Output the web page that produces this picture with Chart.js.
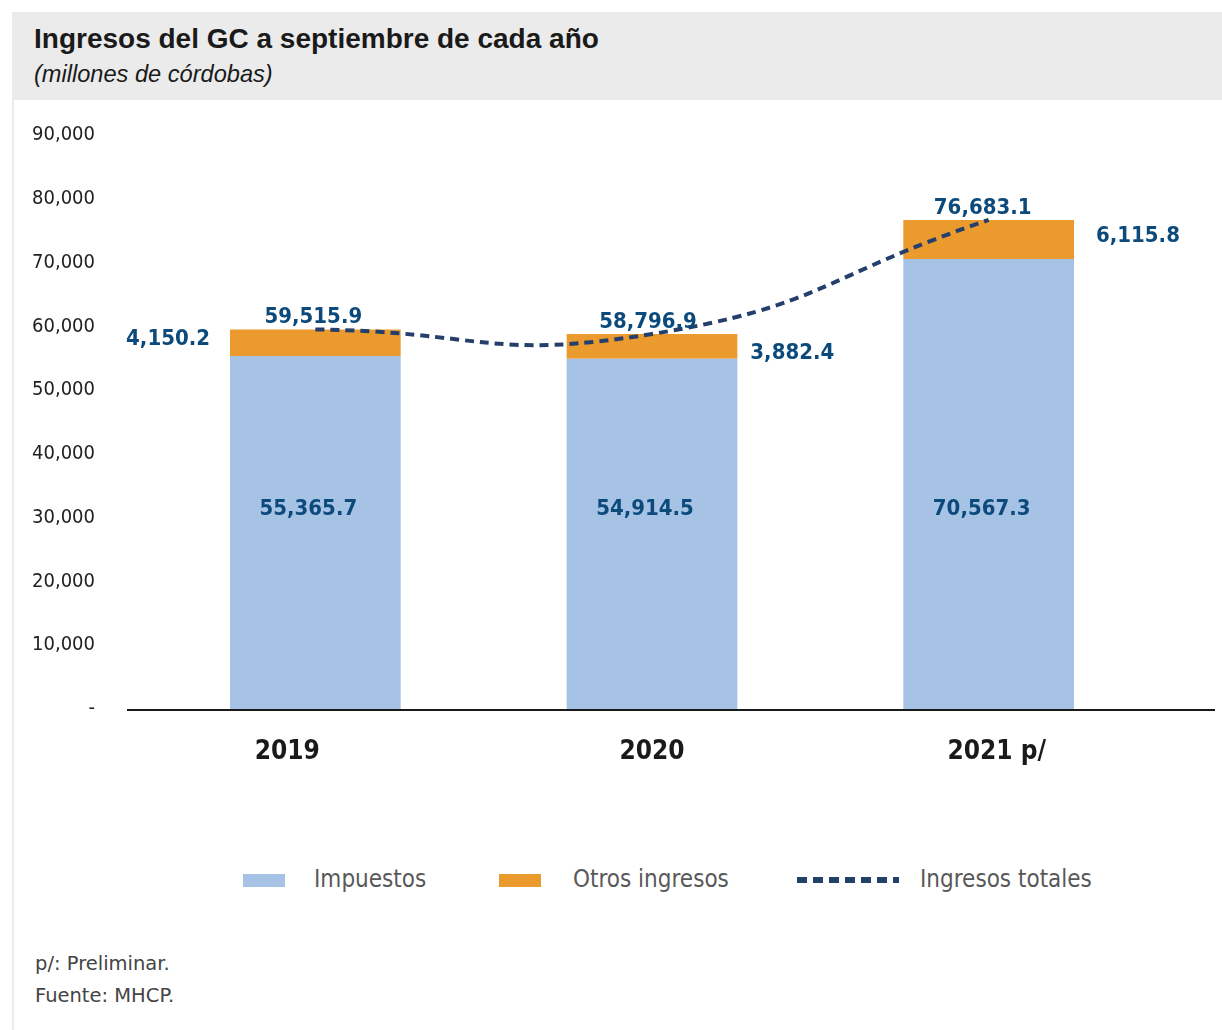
<!DOCTYPE html>
<html><head><meta charset="utf-8">
<script src="https://cdn.jsdelivr.net/npm/chart.js@4.4.1/dist/chart.umd.min.js"></script>
<style>
html,body{margin:0;padding:0;background:#fff;width:1222px;height:1030px;overflow:hidden;}
#card{position:absolute;left:12px;top:12px;width:1210px;height:1018px;border-left:2px solid #ececec;box-sizing:border-box;}
#hdr{position:absolute;left:12px;top:12px;width:1210px;height:88px;background:#ebebeb;}
#title{position:absolute;left:34px;top:23px;font:bold 28px "Liberation Sans",Arial,sans-serif;color:#1a1a1a;white-space:nowrap;}
#sub{position:absolute;left:34px;top:61px;font:italic 23.6px "Liberation Sans",Arial,sans-serif;color:#1a1a1a;white-space:nowrap;}
#wrap{position:absolute;left:0;top:100px;width:1222px;height:700px;}
.leg{position:absolute;top:865px;font:24px "DejaVu Sans Condensed","DejaVu Sans",sans-serif;color:#595959;white-space:nowrap;line-height:28px;}
.box{position:absolute;top:874px;width:42px;height:13px;}
.note{position:absolute;left:35px;font:19.5px "DejaVu Sans",sans-serif;color:#444;white-space:nowrap;}
</style></head>
<body>
<div id="card"></div>
<div id="hdr"></div>
<div id="title">Ingresos del GC a septiembre de cada año</div>
<div id="sub">(millones de córdobas)</div>
<div id="wrap"><canvas id="c" width="1222" height="700"></canvas></div>
<div class="box" style="left:243px;background:#a6c3e5"></div>
<div class="leg" style="left:314px">Impuestos</div>
<div class="box" style="left:499px;background:#eb9a2e"></div>
<div class="leg" style="left:573px">Otros ingresos</div>
<div style="position:absolute;left:797px;top:877px;width:102px;height:6px;background:repeating-linear-gradient(90deg,#243f6b 0 10px,transparent 10px 16px);"></div>
<div class="leg" style="left:920px">Ingresos totales</div>
<div class="note" style="top:952px">p/: Preliminar.</div>
<div class="note" style="top:984px">Fuente: MHCP.</div>
<script>
const categories = ["2019", "2020", "2021 p/"];
const impuestos = [55365.7, 54914.5, 70567.3];
const otros = [4150.2, 3882.4, 6115.8];
const totales = [59515.9, 58796.9, 76683.1];
const yTicks = [0, 10000, 20000, 30000, 40000, 50000, 60000, 70000, 80000, 90000];

const fmt = v => v.toLocaleString('en-US', {minimumFractionDigits: 1, maximumFractionDigits: 1});
const labelColor = '#0d4a7c';
const labelFont = 'bold 22px "DejaVu Sans Condensed","DejaVu Sans",sans-serif';
const catOffsets = [-28, 0, 8];
const otrosDx = [-20, 13, 22];
const otrosDy = [-3, 7, -3];
const totalDx = [-2, -4, -6];

const labelsPlugin = {
  id: 'labels',
  afterDatasetsDraw(chart) {
    const ctx = chart.ctx;
    const y = chart.scales.y, x = chart.scales.x;
    const m0 = chart.getDatasetMeta(0), m1 = chart.getDatasetMeta(1);
    ctx.save();
    ctx.textBaseline = 'middle';
    ctx.font = 'bold 26px "DejaVu Sans Condensed","DejaVu Sans",sans-serif';
    ctx.fillStyle = '#1a1a1a';
    ctx.textAlign = 'center';
    categories.forEach((c, i) => {
      ctx.fillText(c, x.getPixelForValue(i) + catOffsets[i], chart.chartArea.bottom + 43);
    });
    ctx.font = labelFont;
    ctx.fillStyle = labelColor;
    categories.forEach((c, i) => {
      const b0 = m0.data[i], b1 = m1.data[i];
      const half = b0.width / 2;
      ctx.textAlign = 'center';
      ctx.fillText(fmt(impuestos[i]), b0.x - 7, y.getPixelForValue(31250));
      ctx.fillText(fmt(totales[i]), b0.x + totalDx[i], b1.y - 12);
      const oy = (b1.y + b1.base) / 2 + otrosDy[i];
      if (i === 0) {
        ctx.textAlign = 'right';
        ctx.fillText(fmt(otros[i]), b0.x - half + otrosDx[i], oy);
      } else {
        ctx.textAlign = 'left';
        ctx.fillText(fmt(otros[i]), b0.x + half + otrosDx[i], oy);
      }
    });
    ctx.restore();
  },
  beforeDatasetsDraw(chart) {
    const ctx = chart.ctx, a = chart.chartArea;
    ctx.save();
    ctx.strokeStyle = '#1a1a1a';
    ctx.lineWidth = 2;
    ctx.beginPath();
    ctx.moveTo(127, a.bottom + 1);
    ctx.lineTo(1215, a.bottom + 1);
    ctx.stroke();
    ctx.restore();
  }
};

new Chart(document.getElementById('c'), {
  data: {
    labels: categories,
    datasets: [
      {type: 'bar', label: 'Impuestos', data: impuestos, backgroundColor: '#a6c3e5', stack: 'a', barPercentage: 0.507, categoryPercentage: 1, order: 2},
      {type: 'bar', label: 'Otros ingresos', data: otros, backgroundColor: '#eb9a2e', stack: 'a', barPercentage: 0.507, categoryPercentage: 1, order: 2},
      {type: 'line', label: 'Ingresos totales', data: totales, stack: 'line', borderColor: '#243f6b', borderWidth: 4, borderDash: [9, 6], pointRadius: 0, tension: 0.5, fill: false, order: 1}
    ]
  },
  options: {
    responsive: false,
    animation: false,
    events: [],
    layout: {padding: {left: 0, right: 65, top: 35, bottom: 0}},
    plugins: {legend: {display: false}, tooltip: {enabled: false}},
    scales: {
      x: {
        stacked: true,
        grid: {display: false},
        border: {display: false},
        ticks: {display: false},
        afterFit(s) { s.height = 91; s.paddingLeft = 0; s.paddingRight = 0; }
      },
      y: {
        stacked: true,
        min: 0, max: 90000,
        grid: {display: false, drawTicks: false},
        border: {display: false},
        afterBuildTicks(s) { s.ticks = yTicks.map(v => ({value: v})); },
        ticks: {
          color: '#222',
          font: {family: '"DejaVu Sans Condensed","DejaVu Sans"', size: 20},
          padding: 52,
          callback: v => v === 0 ? '-' : v.toLocaleString('en-US')
        },
        afterFit(s) { s.width = 147; s.paddingTop = 0; s.paddingBottom = 0; }
      }
    }
  },
  plugins: [labelsPlugin]
});
</script>
</body></html>
